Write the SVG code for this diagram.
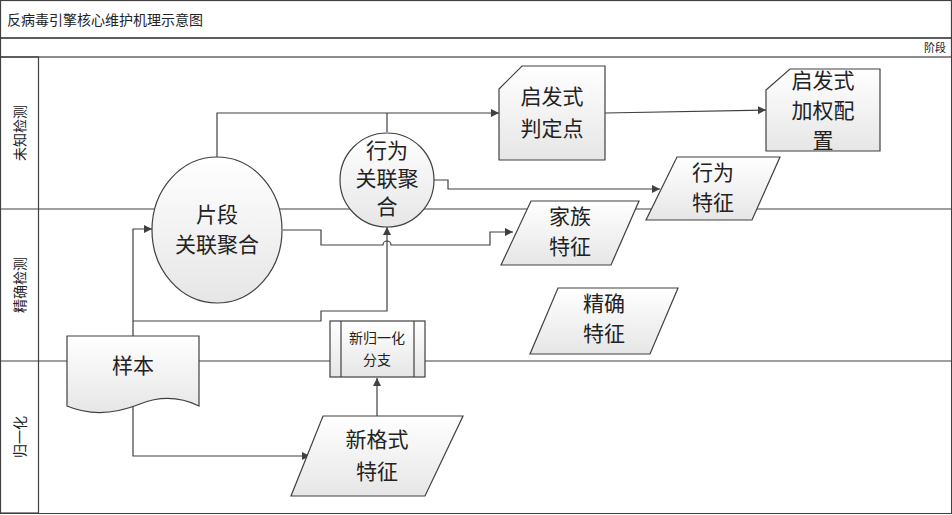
<svg xmlns="http://www.w3.org/2000/svg" width="952" height="515" viewBox="0 0 952 515">
<defs>
<linearGradient id="g" x1="0" y1="0" x2="0" y2="1"><stop offset="0" stop-color="#ffffff"/><stop offset="1" stop-color="#e6e6e6"/></linearGradient>
<linearGradient id="gh" x1="0" y1="0" x2="1" y2="0"><stop offset="0" stop-color="#e8e8e8"/><stop offset="1" stop-color="#ffffff"/></linearGradient>
<marker id="a" viewBox="0 0 10 10" refX="10" refY="5" markerWidth="8" markerHeight="8" orient="auto" markerUnits="userSpaceOnUse"><path d="M0,0L10,5L0,10z" fill="#404040"/></marker>
</defs>
<style>
.s{fill:url(#g);stroke:#404040;stroke-width:1.2}
.ln{fill:none;stroke:#404040;stroke-width:1.2}
.c{stroke:#404040;stroke-width:1.2;fill:none;marker-end:url(#a)}
text{font-family:"Noto Sans CJK SC","Liberation Sans",sans-serif;fill:#222}
.big{font-size:21px;text-anchor:middle}
.sm{font-size:14px;text-anchor:middle}
</style>
<rect x="0.5" y="0.5" width="951" height="513" fill="#fff" stroke="#404040"/>
<rect x="0.5" y="0.5" width="951" height="37.5" fill="url(#g)" class="ln"/>
<rect x="0.5" y="38" width="951" height="19" fill="url(#g)" class="ln"/>
<text x="7" y="25" font-size="14">反病毒引擎核心维护机理示意图</text>
<text x="946" y="52" font-size="11" text-anchor="end">阶段</text>
<rect x="0.5" y="57" width="38" height="456" fill="url(#gh)" class="ln"/>
<line class="ln" x1="0" y1="209" x2="951" y2="209"/>
<line class="ln" x1="0" y1="361" x2="951" y2="361"/>
<text font-size="14" transform="translate(25,133) rotate(-90)" text-anchor="middle">未知检测</text>
<text font-size="14" transform="translate(25,285) rotate(-90)" text-anchor="middle">精确检测</text>
<text font-size="14" transform="translate(25,437) rotate(-90)" text-anchor="middle">归一化</text>
<g id="connectors">
<path class="c" d="M217,157V113H499"/>
<path class="ln" d="M387,132V113"/>
<path class="c" d="M605,113L766,110"/>
<path class="c" d="M434,180H448V189H660"/>
<path class="c" d="M283,230H321V245H383A4,4 0 0 1 391,245H490V232H513"/>
<path class="c" d="M133,336V229H152"/>
<path class="c" d="M133,321H321V311H387V227"/>
<path class="c" d="M133,405V456H310"/>
<path class="c" d="M377,416V378"/>
</g>
<g id="n1"><ellipse class="s" cx="217" cy="230" rx="65" ry="73"/><text class="big" x="217" y="222">片段</text><text class="big" x="217" y="252">关联聚合</text></g>
<g id="n2"><circle class="s" cx="387" cy="180" r="47"/><text class="big" x="387" y="158">行为</text><text class="big" x="387" y="186">关联聚</text><text class="big" x="387" y="214">合</text></g>
<g id="n3"><path class="s" d="M499,89L522,66H605V160H499Z"/><text class="big" x="552" y="104">启发式</text><text class="big" x="552" y="136">判定点</text></g>
<g id="n4"><path class="s" d="M766,90L790,69H880V151H766Z"/><text class="big" x="823" y="88">启发式</text><text class="big" x="823" y="118">加权配</text><text class="big" x="823" y="148">置</text></g>
<g id="n5"><path class="s" d="M677,157H780L752,220H646Z"/><text class="big" x="713" y="180">行为</text><text class="big" x="713" y="210">特征</text></g>
<g id="n6"><path class="s" d="M531,201H639L611,265H501Z"/><text class="big" x="570" y="224">家族</text><text class="big" x="570" y="254">特征</text></g>
<g id="n7"><path class="s" d="M558,288H678L650,354H530Z"/><text class="big" x="604" y="311">精确</text><text class="big" x="604" y="341">特征</text></g>
<g id="n8"><path class="s" d="M67,336H199V406Q170,392 140,404Q100,420 67,406Z"/><text class="big" x="133" y="373">样本</text></g>
<g id="n9"><rect class="s" x="330" y="321" width="95" height="56"/><line class="ln" x1="341" y1="321" x2="341" y2="377"/><line class="ln" x1="414" y1="321" x2="414" y2="377"/><text class="sm" x="377" y="343">新归一化</text><text class="sm" x="377" y="365">分支</text></g>
<g id="n10"><path class="s" d="M323,416H463L425,496H291Z"/><text class="big" x="377" y="447">新格式</text><text class="big" x="377" y="479">特征</text></g>
</svg>
